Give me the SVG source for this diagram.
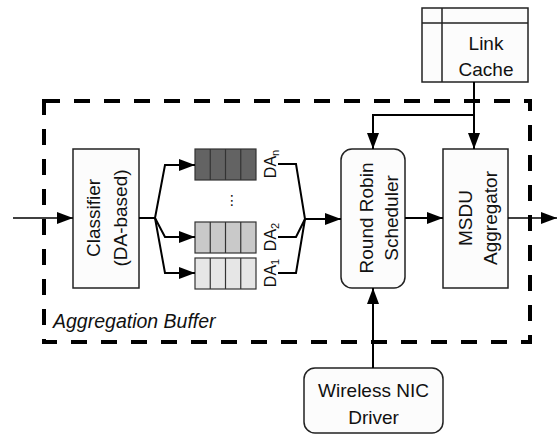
<svg xmlns="http://www.w3.org/2000/svg" width="560" height="435" viewBox="0 0 560 435">
<style>
.box{fill:#fcfcfc;stroke:#222;stroke-width:1.5}
.t{font-family:"Liberation Sans",Arial,sans-serif;font-size:19px;fill:#111;text-anchor:middle}
.da{font-family:"Liberation Sans",Arial,sans-serif;font-size:16px;fill:#111;text-anchor:middle}
.ln{fill:none;stroke:#000;stroke-width:2}
.thin{fill:none;stroke:#000;stroke-width:1.5}
.cell{stroke:#333;stroke-width:1.2}
</style>
<defs>
<marker id="ah" markerUnits="userSpaceOnUse" markerWidth="16" markerHeight="12" refX="16" refY="6" orient="auto">
<path d="M0,0 L16,6 L0,12 z" fill="#000"/>
</marker>
</defs>
<rect x="44" y="101" width="486" height="241" fill="none" stroke="#000" stroke-width="4" stroke-dasharray="16 14"/>
<text x="53" y="328" style="font-family:'Liberation Sans',Arial,sans-serif;font-size:19.5px;font-style:italic;fill:#111">Aggregation Buffer</text>
<g id="link-cache">
<rect class="box" x="422" y="8" width="106" height="74"/>
<line x1="422" y1="23" x2="528" y2="23" stroke="#222" stroke-width="1.5"/>
<line x1="442" y1="8" x2="442" y2="82" stroke="#222" stroke-width="1.5"/>
<text class="t" x="486" y="50">Link</text>
<text class="t" x="486" y="76">Cache</text>
</g>
<g id="classifier">
<rect class="box" x="73" y="149" width="66" height="139"/>
<text class="t" transform="translate(100,218) rotate(-90)">Classifier</text>
<text class="t" transform="translate(127,218) rotate(-90)">(DA-based)</text>
</g>
<g id="queue-dan">
<rect class="cell" x="195" y="149" width="61" height="31" fill="#636363"/>
<line class="cell" x1="210.25" y1="149" x2="210.25" y2="180"/>
<line class="cell" x1="225.5" y1="149" x2="225.5" y2="180"/>
<line class="cell" x1="240.75" y1="149" x2="240.75" y2="180"/>
<text class="da" transform="translate(276,164) rotate(-90)">DA<tspan font-size="11" dy="3">n</tspan></text>
</g>
<text x="232" y="205" style="font-family:'DejaVu Sans',sans-serif;font-size:14px;text-anchor:middle;fill:#111">⋮</text>
<g id="queue-da2">
<rect class="cell" x="195" y="222" width="61" height="31" fill="#c9c9c9"/>
<line class="cell" x1="210.25" y1="222" x2="210.25" y2="253"/>
<line class="cell" x1="225.5" y1="222" x2="225.5" y2="253"/>
<line class="cell" x1="240.75" y1="222" x2="240.75" y2="253"/>
<text class="da" transform="translate(276,237) rotate(-90)">DA<tspan font-size="11" dy="3">2</tspan></text>
</g>
<g id="queue-da1">
<rect class="cell" x="195" y="258" width="61" height="31" fill="#e6e6e6"/>
<line class="cell" x1="210.25" y1="258" x2="210.25" y2="289"/>
<line class="cell" x1="225.5" y1="258" x2="225.5" y2="289"/>
<line class="cell" x1="240.75" y1="258" x2="240.75" y2="289"/>
<text class="da" transform="translate(276,273) rotate(-90)">DA<tspan font-size="11" dy="3">1</tspan></text>
</g>
<g id="scheduler">
<rect class="box" x="341" y="149" width="64" height="139" rx="11"/>
<text class="t" transform="translate(373,218) rotate(-90)">Round Robin</text>
<text class="t" transform="translate(398,218) rotate(-90)">Scheduler</text>
</g>
<g id="aggregator">
<rect class="box" x="443" y="149" width="65" height="139"/>
<text class="t" transform="translate(472,218) rotate(-90)">MSDU</text>
<text class="t" transform="translate(497,218) rotate(-90)">Aggregator</text>
</g>
<g id="nic-driver">
<rect class="box" x="304" y="368" width="139" height="65" rx="11"/>
<text class="t" x="373.5" y="397">Wireless NIC</text>
<text class="t" x="373.5" y="424">Driver</text>
</g>
<g id="connectors">
<line class="thin" x1="13" y1="218" x2="73" y2="218" marker-end="url(#ah)"/>
<polyline class="ln" points="139,218 155,218"/>
<polyline class="ln" points="155,218 165,165 195,165" marker-end="url(#ah)"/>
<polyline class="ln" points="155,218 165,237 195,237" marker-end="url(#ah)"/>
<polyline class="ln" points="155,218 165,273 195,273" marker-end="url(#ah)"/>
<polyline class="ln" points="278,164 296,164 305,219"/>
<polyline class="ln" points="278,237 296,237 305,219"/>
<polyline class="ln" points="278,273 296,273 305,219"/>
<line class="ln" x1="305" y1="219" x2="341" y2="219" marker-end="url(#ah)"/>
<line class="ln" x1="405" y1="218" x2="443" y2="218" marker-end="url(#ah)"/>
<line class="thin" x1="508" y1="218" x2="557" y2="218" marker-end="url(#ah)"/>
<polyline class="ln" points="474,82 474,115 373,115 373,149" marker-end="url(#ah)"/>
<line class="ln" x1="474" y1="115" x2="474" y2="149" marker-end="url(#ah)"/>
<line class="ln" x1="373" y1="368" x2="373" y2="288" marker-end="url(#ah)"/>
</g>
</svg>
